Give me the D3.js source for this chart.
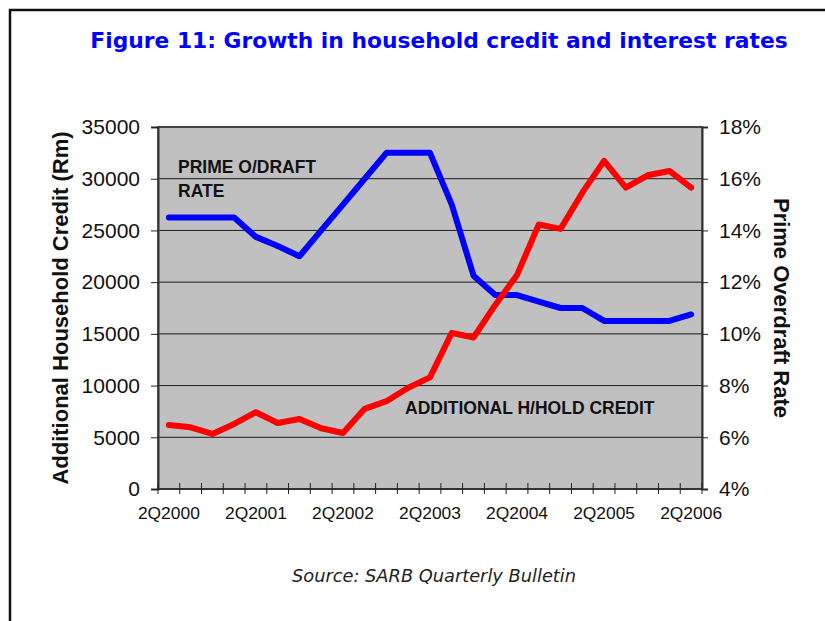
<!DOCTYPE html>
<html>
<head>
<meta charset="utf-8">
<script src="https://cdn.jsdelivr.net/npm/d3@7"></script>
<style>
  html, body { margin: 0; padding: 0; background: #fff; }
  svg { display: block; }
</style>
</head>
<body>
<svg id="chart" width="825" height="621"></svg>
<script>
// Quarterly categories, 2Q2000 .. 2Q2006
const quarters = [
  "2Q2000","3Q2000","4Q2000","1Q2001",
  "2Q2001","3Q2001","4Q2001","1Q2002",
  "2Q2002","3Q2002","4Q2002","1Q2003",
  "2Q2003","3Q2003","4Q2003","1Q2004",
  "2Q2004","3Q2004","4Q2004","1Q2005",
  "2Q2005","3Q2005","4Q2005","1Q2006",
  "2Q2006"
];

// Additional household credit, R million (left axis)
const householdCredit = [
  6190, 5960, 5320, 6290,
  7420, 6380, 6770, 5870,
  5410, 7750, 8490, 9790,
  10790, 15100, 14650, 17800,
  20700, 25570, 25150, 28650,
  31720, 29140, 30330, 30750,
  29140
];

// Prime overdraft rate, % (right axis)
const primeRate = [
  14.5, 14.5, 14.5, 14.5,
  13.75, 13.4, 13.0, 14.0,
  15.0, 16.0, 17.0, 17.0,
  17.0, 15.0, 12.25, 11.5,
  11.5, 11.25, 11.0, 11.0,
  10.5, 10.5, 10.5, 10.5,
  10.75
];

const leftTicks = [0, 5000, 10000, 15000, 20000, 25000, 30000, 35000];
const rightTicks = [4, 6, 8, 10, 12, 14, 16, 18];
const xLabelQuarters = ["2Q2000","2Q2001","2Q2002","2Q2003","2Q2004","2Q2005","2Q2006"];

const svg = d3.select("#chart");
const plot = { left: 158, right: 702, top: 127, bottom: 489 };

const x = d3.scaleBand().domain(quarters).range([plot.left, plot.right]).paddingInner(0).paddingOuter(0);
const xc = q => x(q) + x.bandwidth() / 2;
const yL = d3.scaleLinear().domain([0, 35000]).range([plot.bottom, plot.top]);
const yR = d3.scaleLinear().domain([4, 18]).range([plot.bottom, plot.top]);

const sansFont = "'Liberation Sans', Arial, sans-serif";

// Outer frame (top and left edges)
svg.append("path")
  .attr("d", "M10,621 V10 H825")
  .attr("fill", "none")
  .attr("stroke", "#111")
  .attr("stroke-width", 2.5);

// Title
svg.append("text")
  .attr("x", 439).attr("y", 48)
  .attr("text-anchor", "middle")
  .attr("font-family", "'DejaVu Sans', Verdana, sans-serif")
  .attr("font-weight", "bold")
  .attr("font-size", 21.8)
  .attr("fill", "#0000ff")
  .text("Figure 11: Growth in household credit and interest rates");

// Plot background
svg.append("rect")
  .attr("x", plot.left).attr("y", plot.top)
  .attr("width", plot.right - plot.left).attr("height", plot.bottom - plot.top)
  .attr("fill", "#c0c0c0")
  .attr("stroke", "#6f6f6f")
  .attr("stroke-width", 2);

// Horizontal gridlines
svg.append("g")
  .selectAll("line")
  .data(leftTicks)
  .join("line")
  .attr("x1", plot.left).attr("x2", plot.right)
  .attr("y1", d => yL(d)).attr("y2", d => yL(d))
  .attr("stroke", "#1a1a1a")
  .attr("stroke-width", 1);

// Left axis
const gL = svg.append("g")
  .attr("transform", `translate(${plot.left},0)`)
  .call(d3.axisLeft(yL).tickValues(leftTicks).tickFormat(d3.format("d")).tickSize(7).tickPadding(11));

// Right axis
const gR = svg.append("g")
  .attr("transform", `translate(${plot.right},0)`)
  .call(d3.axisRight(yR).tickValues(rightTicks).tickFormat(d => d + "%").tickSize(6).tickPadding(11));

[gL, gR].forEach(g => {
  g.select(".domain").attr("stroke", "#333").attr("stroke-width", 2);
  g.selectAll(".tick line").attr("stroke", "#222").attr("stroke-width", 1);
  g.selectAll(".tick text")
    .attr("font-family", sansFont)
    .attr("font-size", 21)
    .attr("fill", "#111");
});

// Bottom axis: tick marks on quarter boundaries, labels on each second quarter
const boundaries = quarters.map(q => x(q)).concat([plot.right]);
svg.append("line")
  .attr("x1", plot.left).attr("x2", plot.right)
  .attr("y1", plot.bottom).attr("y2", plot.bottom)
  .attr("stroke", "#333").attr("stroke-width", 2);
svg.append("g")
  .selectAll("line")
  .data(boundaries)
  .join("line")
  .attr("x1", d => d).attr("x2", d => d)
  .attr("y1", plot.bottom - 6).attr("y2", plot.bottom + 5)
  .attr("stroke", "#222").attr("stroke-width", 1);

svg.append("g")
  .selectAll("text")
  .data(xLabelQuarters)
  .join("text")
  .attr("x", d => xc(d))
  .attr("y", 519)
  .attr("text-anchor", "middle")
  .attr("font-family", sansFont)
  .attr("font-size", 17.4)
  .attr("fill", "#111")
  .text(d => d);

// Axis titles
svg.append("text")
  .attr("transform", "translate(68,308) rotate(-90)")
  .attr("text-anchor", "middle")
  .attr("font-family", sansFont)
  .attr("font-weight", "bold")
  .attr("font-size", 22)
  .attr("fill", "#111")
  .text("Additional Household Credit (Rm)");

svg.append("text")
  .attr("transform", "translate(774,308) rotate(90)")
  .attr("text-anchor", "middle")
  .attr("font-family", sansFont)
  .attr("font-weight", "bold")
  .attr("font-size", 22)
  .attr("fill", "#111")
  .text("Prime Overdraft Rate");

// Series lines
const creditLine = d3.line()
  .x((d, i) => xc(quarters[i]))
  .y(d => yL(d));
const rateLine = d3.line()
  .x((d, i) => xc(quarters[i]))
  .y(d => yR(d));

svg.append("path")
  .datum(primeRate)
  .attr("d", rateLine)
  .attr("fill", "none")
  .attr("stroke", "#0000ff")
  .attr("stroke-width", 6)
  .attr("stroke-linejoin", "round")
  .attr("stroke-linecap", "round");

svg.append("path")
  .datum(householdCredit)
  .attr("d", creditLine)
  .attr("fill", "none")
  .attr("stroke", "#ff0000")
  .attr("stroke-width", 6)
  .attr("stroke-linejoin", "round")
  .attr("stroke-linecap", "round");

// Series labels inside the plot
const seriesLabel = (txt, lx, ly) => svg.append("text")
  .attr("x", lx).attr("y", ly)
  .attr("font-family", sansFont)
  .attr("font-weight", "bold")
  .attr("font-size", 17.5)
  .attr("fill", "#111")
  .text(txt);
seriesLabel("PRIME O/DRAFT", 178, 173);
seriesLabel("RATE", 178, 197);
seriesLabel("ADDITIONAL H/HOLD CREDIT", 405, 414);

// Source note
svg.append("text")
  .attr("x", 434).attr("y", 582)
  .attr("text-anchor", "middle")
  .attr("font-family", "'DejaVu Sans', Verdana, sans-serif")
  .attr("font-style", "italic")
  .attr("font-size", 17.8)
  .attr("fill", "#222")
  .text("Source: SARB Quarterly Bulletin");
</script>
</body>
</html>
